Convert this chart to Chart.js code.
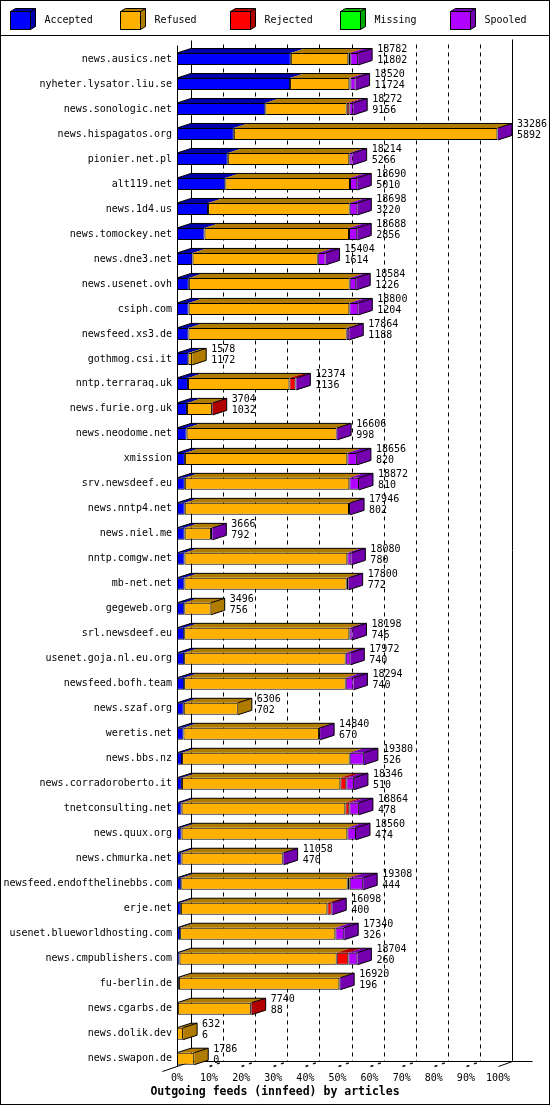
<!DOCTYPE html>
<html>
<head>
<meta charset="utf-8">
<title>Outgoing feeds (innfeed) by articles</title>
<script src="https://cdn.jsdelivr.net/npm/chart.js@4.4.0/dist/chart.umd.min.js"></script>
<style>
  body { margin: 0; background: #fff; }
  canvas { display: block; }
</style>
</head>
<body>
<canvas id="feedChart" width="550" height="1105"></canvas>
<script>
// feed names, top to bottom
const feeds = [
  'news.ausics.net', 'nyheter.lysator.liu.se', 'news.sonologic.net', 'news.hispagatos.org',
  'pionier.net.pl', 'alt119.net', 'news.1d4.us', 'news.tomockey.net', 'news.dne3.net',
  'news.usenet.ovh', 'csiph.com', 'newsfeed.xs3.de', 'gothmog.csi.it', 'nntp.terraraq.uk',
  'news.furie.org.uk', 'news.neodome.net', 'xmission', 'srv.newsdeef.eu', 'news.nntp4.net',
  'news.niel.me', 'nntp.comgw.net', 'mb-net.net', 'gegeweb.org', 'srl.newsdeef.eu',
  'usenet.goja.nl.eu.org', 'newsfeed.bofh.team', 'news.szaf.org', 'weretis.net',
  'news.bbs.nz', 'news.corradoroberto.it', 'tnetconsulting.net', 'news.quux.org',
  'news.chmurka.net', 'newsfeed.endofthelinebbs.com', 'erje.net', 'usenet.blueworldhosting.com',
  'news.cmpublishers.com', 'fu-berlin.de', 'news.cgarbs.de', 'news.dolik.dev', 'news.swapon.de'
];

// offered articles (upper number beside each bar)
const offered = [
  18782, 18520, 18272, 33286, 18214, 18690, 18698, 18688, 15404, 18584, 18800, 17864, 1578, 12374,
  3704, 16606, 18656, 18872, 17946, 3666, 18080, 17800, 3496, 18198, 17972, 18294, 6306, 14840,
  19380, 18346, 18864, 18560, 11058, 19308, 16098, 17340, 18704, 16920, 7740, 632, 1786
];

// accepted articles (lower number beside each bar)
const accepted = [
  11802, 11724, 9156, 5892, 5266, 5010, 3220, 2856, 1614, 1226, 1204, 1188, 1172, 1136,
  1032, 998, 820, 810, 802, 792, 780, 772, 756, 746, 740, 740, 702, 670,
  526, 510, 478, 474, 470, 444, 400, 326, 260, 196, 88, 6, 0
];

// the rest
const refused = [
  5966, 6150, 8440, 27334, 12600, 12930, 14685, 14980, 12980, 16680, 16667, 16407, 406, 10525,
  2590, 15560, 16844, 17061, 17035, 2727, 16884, 16823, 2740, 17125, 16752, 16752, 5604, 14061,
  17380, 16430, 16979, 17190, 10501, 17256, 15194, 16096, 16300, 16640, 7571, 626, 1786
];
const rejected = [
  200, 100, 275, 0, 0, 0, 0, 0, 0, 0, 0, 0, 0, 620,
  82, 0, 0, 0, 0, 0, 0, 0, 0, 0, 0, 0, 0, 0,
  0, 620, 414, 0, 0, 205, 449, 0, 1208, 0, 81, 0, 0
];
const missing = [
  0, 0, 0, 0, 0, 0, 0, 0, 0, 0, 0, 0, 0, 0,
  0, 0, 0, 0, 0, 0, 0, 0, 0, 0, 0, 0, 0, 0,
  0, 0, 0, 0, 0, 0, 0, 0, 0, 0, 0, 0, 0
];
const spooled = [
  814, 546, 401, 60, 348, 750, 793, 852, 810, 678, 929, 269, 0, 93,
  0, 48, 992, 1001, 109, 147, 416, 205, 0, 327, 480, 802, 0, 109,
  1474, 786, 993, 896, 87, 1403, 55, 918, 936, 84, 0, 0, 0
];

const seriesNames = ['Accepted', 'Refused', 'Rejected', 'Missing', 'Spooled'];
const seriesValues = [accepted, refused, rejected, missing, spooled];
const chartTitle = 'Outgoing feeds (innfeed) by articles';

// styles
const frontColors = ['#0000ff', '#ffb000', '#ff0000', '#00ff00', '#b000ff'];
const darkColors = ['#0000a8', '#b07c00', '#b00000', '#00a800', '#7400b0'];
const MONO = 'DejaVu Sans Mono';
const DX = 14, DY = 4.5;     // bar depth
const WDX = 14, WDY = 5;     // wall / floor depth

// bars are scaled against the biggest feed, shown as percent
const maxOffered = Math.max(...offered);

function seg(ctx, x1, y1, x2, y2) {
  ctx.beginPath();
  ctx.moveTo(x1, y1);
  ctx.lineTo(x2, y2);
  ctx.stroke();
}
const px = v => Math.round(v) + 0.5;

// back wall, floor and dashed grid, drawn behind the bars
const wallPlugin = {
  id: 'walls',
  beforeDatasetsDraw(chart) {
    const { ctx, chartArea: a, scales: { x } } = chart;
    const floorY = px(a.bottom - 5.5);
    const backY = floorY - WDY;
    const left = px(a.left), right = px(x.getPixelForValue(100));
    ctx.save();
    ctx.strokeStyle = '#000';
    ctx.lineWidth = 1;
    seg(ctx, left, px(a.top - 2), left, floorY);
    seg(ctx, left + WDX, px(a.top - 7), left + WDX, backY);
    seg(ctx, right + WDX, px(a.top - 8), right + WDX, backY);
    seg(ctx, left - 15, floorY + 5, left + WDX, backY);
    seg(ctx, left + WDX, backY, right + WDX + 20, backY);
    seg(ctx, right, floorY, right + WDX, backY);
    for (let p = 10; p < 100; p += 10) {
      const gx = px(x.getPixelForValue(p));
      ctx.setLineDash([4, 4]);
      seg(ctx, gx + WDX, px(a.top - 3), gx + WDX, backY);
      ctx.lineWidth = 1.4;
      ctx.setLineDash([3, 5]);
      seg(ctx, gx, floorY, gx + WDX, backY);
      ctx.lineWidth = 1;
    }
    ctx.restore();
  }
};

// tops and right sides of the bars, plus the two numbers
const barPlugin = {
  id: 'bars3d',
  afterDatasetsDraw(chart) {
    const { ctx } = chart;
    const sets = chart.data.datasets;
    ctx.save();
    feeds.forEach((name, row) => {
      let first = null, last = null;
      sets.forEach((ds, di) => {
        if (ds.data[row] == null) return;
        const b = chart.getDatasetMeta(di).data[row].getProps(['x', 'y', 'base', 'height'], true);
        const top = b.y - b.height / 2;
        ctx.fillStyle = darkColors[di];
        ctx.beginPath();
        ctx.moveTo(b.base, top);
        ctx.lineTo(b.x, top);
        ctx.lineTo(b.x + DX, top - DY);
        ctx.lineTo(b.base + DX, top - DY);
        ctx.closePath();
        ctx.fill();
        if (!first) first = b;
        last = { ...b, di };
      });
      if (!last) return;
      const top = last.y - last.height / 2, bottom = last.y + last.height / 2;
      ctx.fillStyle = darkColors[last.di];
      ctx.beginPath();
      ctx.moveTo(last.x, top);
      ctx.lineTo(last.x + DX, top - DY);
      ctx.lineTo(last.x + DX, bottom - DY);
      ctx.lineTo(last.x, bottom);
      ctx.closePath();
      ctx.fill();

      ctx.strokeStyle = '#000';
      ctx.lineWidth = 1;
      ctx.beginPath();
      ctx.moveTo(first.base, top);
      ctx.lineTo(first.base + DX, top - DY);
      ctx.lineTo(last.x + DX, top - DY);
      ctx.lineTo(last.x + DX, bottom - DY);
      ctx.lineTo(last.x, bottom);
      ctx.moveTo(last.x, top);
      ctx.lineTo(last.x + DX, top - DY);
      ctx.stroke();

      ctx.fillStyle = '#000';
      ctx.font = '10px "' + MONO + '"';
      ctx.textAlign = 'left';
      ctx.textBaseline = 'middle';
      ctx.fillText(String(offered[row]), last.x + DX + 5, last.y - 9.5);
      ctx.fillText(String(accepted[row]), last.x + DX + 5, last.y + 1.5);
    });
    ctx.restore();
  }
};

// frame, 3D legend boxes at the top and the caption at the bottom
const framePlugin = {
  id: 'frame',
  afterDraw(chart) {
    const { ctx, width, height } = chart;
    ctx.save();
    ctx.strokeStyle = '#000';
    ctx.lineWidth = 1;
    ctx.strokeRect(0.5, 0.5, width - 1, height - 1);
    seg(ctx, 0, 35.5, width, 35.5);
    ctx.font = '10px "' + MONO + '"';
    ctx.textBaseline = 'middle';
    ctx.textAlign = 'left';
    seriesNames.forEach((label, i) => {
      const x0 = 10.5 + i * 110, y0 = 11.5, w = 20, h = 18, d = 5, dy = 3;
      ctx.fillStyle = darkColors[i];
      ctx.beginPath();
      ctx.moveTo(x0, y0);
      ctx.lineTo(x0 + d, y0 - dy);
      ctx.lineTo(x0 + w + d, y0 - dy);
      ctx.lineTo(x0 + w + d, y0 + h - dy);
      ctx.lineTo(x0 + w, y0 + h);
      ctx.lineTo(x0 + w, y0);
      ctx.closePath();
      ctx.fill();
      ctx.stroke();
      seg(ctx, x0 + w, y0, x0 + w + d, y0 - dy);
      ctx.fillStyle = frontColors[i];
      ctx.fillRect(x0, y0, w, h);
      ctx.strokeRect(x0, y0, w, h);
      ctx.fillStyle = '#000';
      ctx.fillText(label, x0 + 34, 20);
    });
    ctx.font = 'bold 11.5px "' + MONO + '"';
    ctx.textAlign = 'center';
    ctx.fillText(chartTitle, width / 2, height - 13);
    ctx.restore();
  }
};

const tickFont = { family: MONO, size: 10 };

new Chart(document.getElementById('feedChart'), {
  type: 'bar',
  data: {
    labels: feeds,
    datasets: seriesNames.map((label, i) => ({
      label: label,
      data: seriesValues[i].map(v => (v ? v / maxOffered * 100 : null)),
      backgroundColor: frontColors[i],
      borderColor: '#000',
      borderWidth: 1,
      borderSkipped: false,
      barPercentage: 0.48,
      categoryPercentage: 1
    }))
  },
  options: {
    indexAxis: 'y',
    responsive: false,
    animation: false,
    layout: { padding: { top: 46.5, right: 52, left: 0, bottom: 21.8 } },
    scales: {
      x: {
        stacked: true,
        min: 0,
        max: 100,
        ticks: { stepSize: 10, callback: v => v + '%', font: tickFont, color: '#000', padding: 1, maxRotation: 0, autoSkip: false },
        grid: { display: false, drawTicks: false },
        border: { display: false },
        afterFit(scale) { scale.height = 12; }
      },
      y: {
        stacked: true,
        ticks: { font: tickFont, color: '#000', padding: 5, autoSkip: false },
        grid: { display: false, drawTicks: false },
        border: { display: false },
        afterFit(scale) { scale.width = 177; }
      }
    },
    plugins: {
      legend: { display: false },
      tooltip: { enabled: false },
      title: { display: false }
    }
  },
  plugins: [wallPlugin, barPlugin, framePlugin]
});
</script>
</body>
</html>
